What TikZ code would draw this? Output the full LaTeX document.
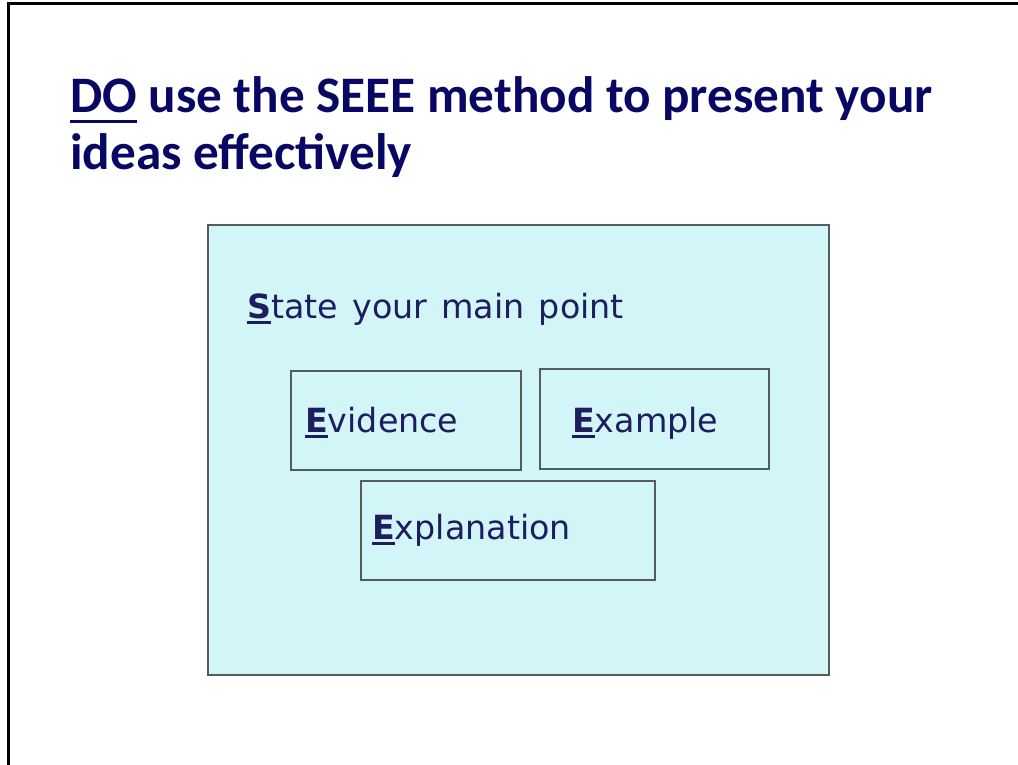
\documentclass[tikz,border=0pt]{standalone}
\usepackage{fontspec}
\setmainfont{DejaVu Sans}
\newfontfamily\titlefont{Carlito}
\definecolor{titleblue}{RGB}{8,8,100}
\definecolor{bodyblue}{RGB}{30,30,95}
\definecolor{boxfill}{RGB}{210,245,248}
\definecolor{boxline}{RGB}{85,92,92}
\newcommand\myul[3]{\setbox0\hbox{#3}\rlap{\vrule width \wd0 height -#1 depth \dimexpr#1+#2\relax}\box0\relax}
\tikzset{
  frameline/.style={line width=3pt, black},
  bigbox/.style={draw=boxline, fill=boxfill, line width=1.3pt, rectangle, inner sep=0pt},
  smallbox/.style={draw=boxline, line width=1.3pt, rectangle, inner sep=0pt},
  bodytext/.style={text=bodyblue, inner sep=0pt, anchor=base west, font=\fontsize{33.3}{40}\selectfont},
  titletext/.style={text=titleblue, inner sep=0pt, anchor=base west, align=left, font=\titlefont\bfseries\fontsize{51.2}{57}\selectfont},
}
\begin{document}
\begin{tikzpicture}[x=1pt,y=-1pt]
\useasboundingbox (0,0) rectangle (1018,765);
\coordinate (fbl) at (8,765);
\coordinate (ftl) at (8,4);
\coordinate (ftr) at (1018,4);
\draw[frameline] (fbl) -- (ftl) -- (ftr);
\node[titletext] (title) at (70,170) {\myul{7pt}{3pt}{DO} use the SEEE method to present your\\ideas effectively};
\node[bigbox, minimum width=621pt, minimum height=450pt] (main) at (518.5,450) {};
\node[smallbox, minimum width=230pt, minimum height=99pt] (evbox) at (406,420.5) {};
\node[smallbox, minimum width=229pt, minimum height=100pt] (exbox) at (654.5,419) {};
\node[smallbox, minimum width=294pt, minimum height=99pt] (explbox) at (508,530.5) {};
\node[bodytext] (state) at (247,318) {\spaceskip=14.2pt\myul{3pt}{2.8pt}{\textbf{S}}tate your main point};
\node[bodytext] (evid) at (305,432) {\myul{3pt}{2.8pt}{\textbf{E}}vidence};
\node[bodytext] (examp) at (572,432) {\myul{3pt}{2.8pt}{\textbf{E}}xample};
\node[bodytext] (expl) at (372,539) {\myul{3pt}{2.8pt}{\textbf{E}}xplanation};
\end{tikzpicture}
\end{document}
